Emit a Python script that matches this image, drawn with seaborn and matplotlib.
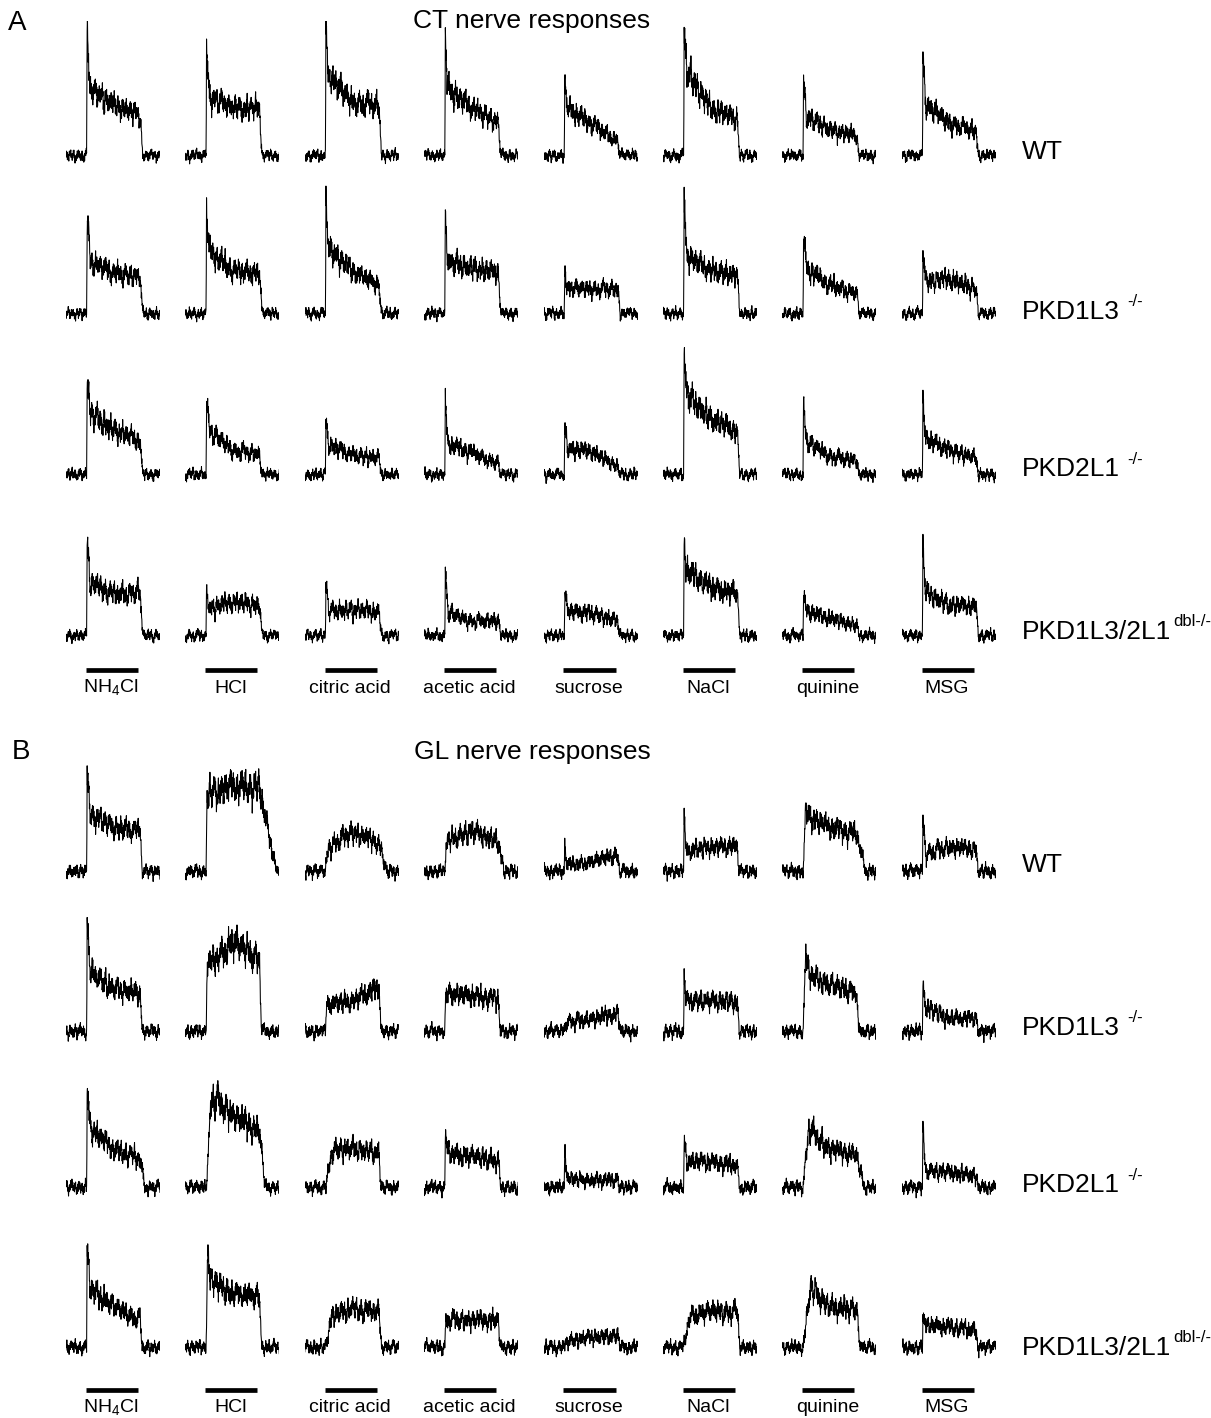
import numpy as np
import matplotlib
matplotlib.use('Agg')
import matplotlib.pyplot as plt
import seaborn as sns

sns.set_style('white')
plt.rcParams['font.family'] = ['Liberation Sans', 'DejaVu Sans']
plt.rcParams['text.color'] = 'black'
plt.rcParams['mathtext.fontset'] = 'custom'
plt.rcParams['mathtext.rm'] = 'Liberation Sans'

stimuli = ['NH$_\\mathrm{4}$Cl', 'HCl', 'citric acid', 'acetic acid',
           'sucrose', 'NaCl', 'quinine', 'MSG']
genotypes = ['WT', 'PKD1L3', 'PKD2L1', 'PKD1L3/2L1']
genotype_sup = ['', '-/-', '-/-', 'dbl-/-']

# CT nerve responses, height above baseline (rows = genotypes, cols = stimuli)
ct_peak = [[120, 111, 126, 110, 69, 125, 72, 106],
           [103, 103, 110, 96, 44, 106, 76, 64],
           [104, 81, 54, 66, 46, 116, 68, 78],
           [101, 43, 53, 63, 48, 94, 48, 87]]
ct_early = [[67, 57, 79, 66, 47, 84, 38, 50],
            [52, 62, 65, 50, 24, 58, 45, 32],
            [60, 42, 30, 30, 26, 78, 32, 36],
            [52, 27, 24, 22, 24, 64, 24, 42]]
ct_mid = [[50, 48, 52, 47, 32, 47, 26, 32],
          [40, 42, 42, 46, 24, 42, 28, 34],
          [45, 24, 19, 22, 23, 56, 18, 24],
          [41, 33, 26, 14, 22, 48, 17, 31]]
ct_late = [[40, 46, 50, 32, 14, 36, 20, 24],
           [36, 40, 28, 40, 24, 38, 20, 24],
           [33, 20, 16, 10, 8, 42, 14, 16],
           [42, 30, 23, 15, 14, 41, 10, 28]]
ct_rise = 0.5
ct_recov = 2.5

# GL nerve responses
gl_peak = [[99, 75, 18, 27, 25, 49, 64, 51],
           [106, 64, 27, 39, 10, 50, 76, 47],
           [102, 92, 35, 50, 40, 43, 60, 55],
           [98, 92, 30, 27, 6, 30, 60, 37]]
gl_early = [[57, 78, 25, 30, 6, 20, 55, 18],
            [59, 66, 27, 38, 10, 30, 58, 24],
            [60, 88, 37, 35, 8, 27, 55, 16],
            [60, 67, 32, 27, 6, 32, 56, 22]]
gl_mid = [[44, 85, 39, 40, 9, 24, 44, 24],
          [42, 88, 30, 35, 12, 30, 45, 13],
          [38, 72, 38, 30, 7, 25, 38, 15],
          [40, 53, 38, 27, 10, 35, 40, 20]]
gl_late = [[40, 82, 28, 30, 16, 25, 37, 22],
           [39, 71, 44, 32, 18, 30, 39, 13],
           [28, 55, 35, 27, 7, 22, 32, 12],
           [27, 50, 35, 27, 12, 35, 37, 17]]
gl_rise = [[0.5, 1, 2, 1, 0.5, 0.5, 3, 0.5],
           [0.5, 1, 1, 1, 2, 0.5, 3, 0.5],
           [0.5, 6, 7, 0.5, 0.5, 0.5, 6, 0.5],
           [0.5, 1.5, 6, 1, 2, 6, 8, 0.5]]
gl_recov = [[2, 18, 8, 6, 2, 2, 10, 2],
            [2, 2, 2, 2, 3, 2, 2, 2],
            [5, 6, 2, 2, 2, 2, 8, 2],
            [2, 2, 3, 2, 3, 3, 4, 2]]

# jitter texture of the recordings
noise_pat = [0.3, -0.5, 0.8, -0.2, 0.6, -0.9, 0.1, 0.7, -0.4, 0.2, -0.8, 0.5, 0.9, -0.3, 0.4,
             -0.6, 0.0, 0.8, -0.7, 0.3, -0.1, 0.6, -0.9, 0.5, 0.2, -0.4, 0.7, -0.2, 0.9, -0.6,
             0.4, 0.1, -0.8, 0.6, -0.3, 0.8, -0.5, 0.2, 0.5, -0.7, 0.9, -0.1, 0.3, -0.9, 0.6,
             0.0, -0.4, 0.7, -0.6, 0.2, 0.8, -0.3, 0.5, -0.8, 0.1, 0.6, -0.5, 0.9, -0.2, 0.4,
             -0.7, 0.3, 0.7, -0.4, 0.0, 0.8, -0.9, 0.5, -0.1, 0.6, -0.6, 0.2, 0.9, -0.3, 0.4,
             -0.8, 0.7, -0.2, 0.1, -0.5, 0.8, -0.6, 0.3, 0.6, -0.9, 0.2, -0.3, 0.7, -0.7, 0.5,
             0.1, -0.4, 0.9, -0.1, 0.4, -0.8, 0.6, -0.5, 0.2, 0.7, -0.3, 0.8, -0.6, 0.0, 0.5,
             -0.9, 0.3, 0.6, -0.2, 0.9, -0.7, 0.4, -0.4, 0.1, 0.8, -0.5, 0.2, -0.8, 0.7, -0.1,
             0.5, -0.6, 0.3, 0.9, -0.3, 0.0, 0.6]

ONSET, OFFSET = 22, 79
BAR_ON, BAR_OFF = 21, 76.5
t = np.arange(0, 100.01, 0.3)
noise = np.array(noise_pat)

W, H = 1211, 1418
fig = plt.figure(figsize=(W / 100, H / 100), dpi=100)

col_x = [66 + 119.4 * c for c in range(8)]
rows_a = [156, 314, 475, 636]
rows_b = [872, 1032, 1188, 1348]
label_y_a = [152, 312, 469, 632]
label_y_b = [865, 1028, 1185, 1348]


def make_trace(peak, early, mid, late, rise, recov, phase, amp0, k):
    kt = [0, ONSET, ONSET + rise, ONSET + rise + 3, 50, OFFSET, OFFSET + recov, 100]
    kv = [0, 0, peak, early, mid, late, 0, 0]
    sig = np.interp(t, kt, kv)
    i = np.arange(len(t))
    fast = noise[(i + phase) % len(noise)]
    slow = noise[(i // 6 + 3 * phase) % len(noise)]
    slow = np.convolve(slow, np.ones(6) / 6, mode='same')
    return sig + (0.8 * fast + 1.0 * slow) * (amp0 + k * sig)


def trace_ax(x0, base):
    ax = fig.add_axes([x0 / W, (H - base - 20) / H, 94 / W, 155 / H])
    ax.set_xlim(0, 100)
    ax.set_ylim(-20, 135)
    ax.axis('off')
    return ax


def panel(rows, label_y, peak, early, mid, late, rise, recov, amp0, k, pshift):
    for r, base in enumerate(rows):
        for c in range(8):
            rs = rise[r][c] if isinstance(rise, list) else rise
            rc = recov[r][c] if isinstance(recov, list) else recov
            y = make_trace(peak[r][c], early[r][c], mid[r][c], late[r][c], rs, rc,
                           17 * (r * 8 + c) + pshift, amp0, k)
            ax = trace_ax(col_x[c], base)
            sns.lineplot(x=t, y=y, ax=ax, color='black', linewidth=0.75, estimator=None)
        # genotype label
        txt = fig.text(1022 / W, 1 - label_y[r] / H, genotypes[r], fontsize=19,
                       va='center', ha='left')
        if genotype_sup[r]:
            fig.canvas.draw()
            bb = txt.get_window_extent(fig.canvas.get_renderer())
            gap = 7 if r < 3 else 2
            fig.text((bb.x1 + gap) / W, (bb.y1 - 2) / H, genotype_sup[r], fontsize=12,
                     va='center', ha='left')


def bars(bar_y):
    for c in range(8):
        ax = fig.add_axes([col_x[c] / W, (H - bar_y - 30) / H, 94 / W, 40 / H])
        ax.set_xlim(0, 100)
        ax.set_ylim(-30, 10)
        ax.axis('off')
        ax.hlines(0, BAR_ON, BAR_OFF, color='black', linewidth=3.4)
        ax.text(48, -18, stimuli[c], ha='center', va='center', fontsize=14)


panel(rows_a, label_y_a, ct_peak, ct_early, ct_mid, ct_late, ct_rise, ct_recov, 5.5, 0.12, 0)
panel(rows_b, label_y_b, gl_peak, gl_early, gl_mid, gl_late, gl_rise, gl_recov, 6.5, 0.10, 5)
bars(670)
bars(1390)

fig.text(8 / W, 1 - 23 / H, 'A', fontsize=20, va='center')
fig.text(532 / W, 1 - 21 / H, 'CT nerve responses', fontsize=19, ha='center', va='center')
fig.text(12 / W, 1 - 752 / H, 'B', fontsize=20, va='center')
fig.text(532 / W, 1 - 752 / H, 'GL nerve responses', fontsize=19, ha='center', va='center')

fig.savefig('out.png', dpi=100)
